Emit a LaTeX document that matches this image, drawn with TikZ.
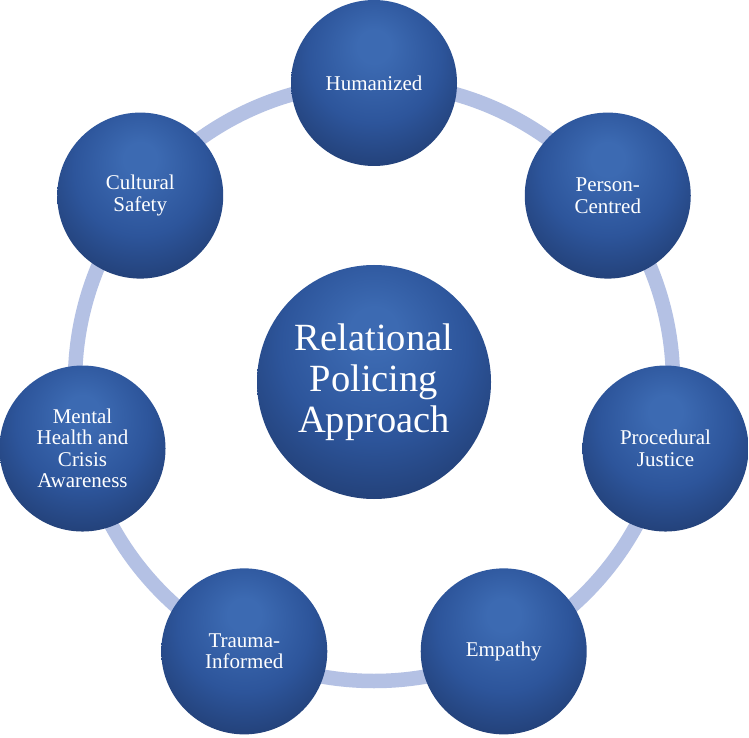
\documentclass[tikz,border=0pt]{standalone}
\usepackage{fontspec}
\setmainfont{Liberation Serif}
\definecolor{ballhi}{RGB}{60,106,178}
\definecolor{ballmid}{RGB}{45,85,155}
\definecolor{balllo}{RGB}{30,55,104}
\definecolor{ringcol}{RGB}{180,193,228}
\pgfdeclareradialshading{sball}{\pgfpoint{0bp}{12bp}}{color(0bp)=(ballhi); color(5bp)=(ballhi); color(20bp)=(ballmid); color(37bp)=(balllo); color(60bp)=(balllo)}
\tikzset{
  satnode/.style={circle, draw=none, inner sep=0pt, minimum size=166pt, shading=sball, align=center, text=white, font=\fontsize{21}{21.5}\selectfont},
  hubnode/.style={circle, draw=none, inner sep=0pt, minimum size=234pt, shading=sball, align=center, text=white, font=\fontsize{38.5}{41}\selectfont},
  ringline/.style={draw=ringcol, line width=14.5pt}
}
\begin{document}
\begin{tikzpicture}
\fill[white] (0,0) rectangle (749pt,737pt);
\useasboundingbox (0,0) rectangle (749pt,737pt);
\coordinate (c) at (374pt,355pt);
\draw[ringline] (c) circle (299pt);
\node[hubnode] (hub) at (c) {Relational\\Policing\\Approach};
\node[satnode] (s1) at ([shift={(90:299pt)}]c) {Humanized};
\node[satnode] (s2) at ([shift={(38.571:299pt)}]c) {Person-\\Centred};
\node[satnode] (s3) at ([shift={(-12.857:299pt)}]c) {Procedural\\Justice};
\node[satnode] (s4) at ([shift={(-64.286:299pt)}]c) {Empathy};
\node[satnode] (s5) at ([shift={(-115.714:299pt)}]c) {Trauma-\\Informed};
\node[satnode] (s6) at ([shift={(-167.143:299pt)}]c) {Mental\\Health and\\Crisis\\Awareness};
\node[satnode] (s7) at ([shift={(141.429:299pt)}]c) {Cultural\\Safety};
\end{tikzpicture}
\end{document}
